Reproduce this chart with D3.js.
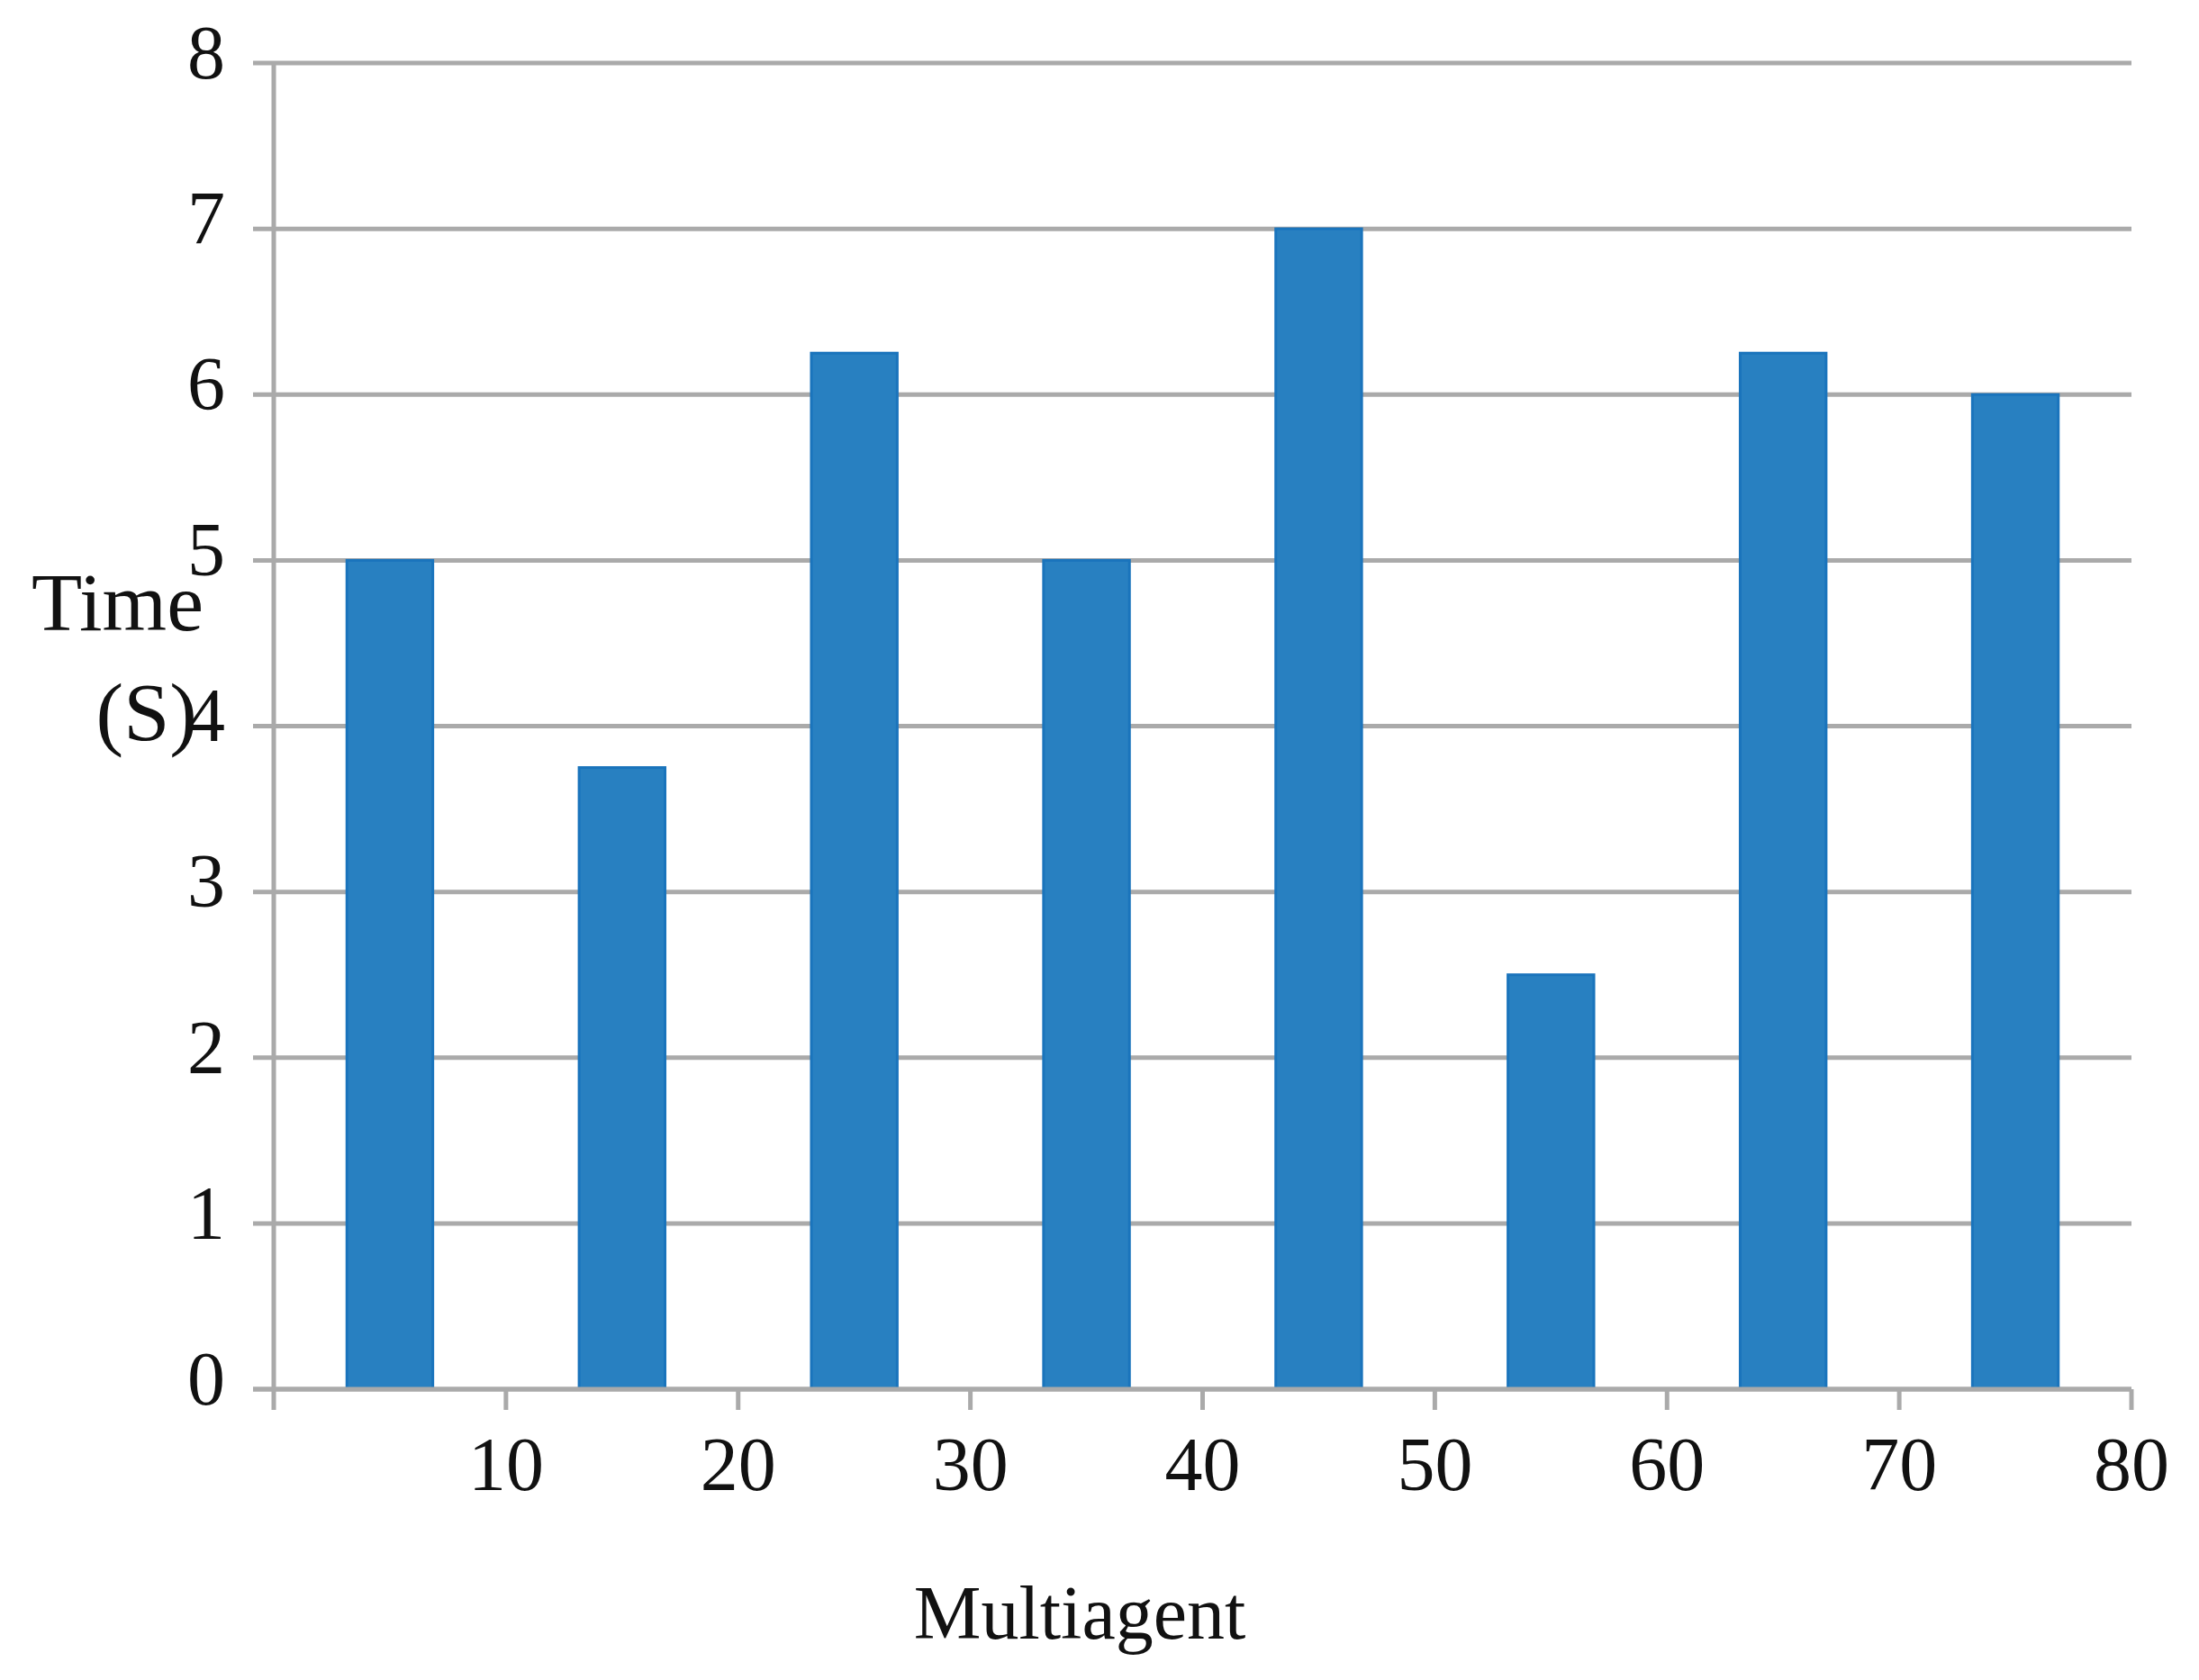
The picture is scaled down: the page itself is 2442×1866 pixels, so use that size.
<!DOCTYPE html>
<html>
<head>
<meta charset="utf-8">
<script src="https://cdn.jsdelivr.net/npm/d3@7"></script>
<style>
  body { margin: 0; background: #fff; }
  text { font-family: "Liberation Serif", "Times New Roman", serif; fill: #111; }
</style>
</head>
<body>
<script>
// data
var categories = [5, 15, 25, 35, 45, 55, 65, 75];
var times = [5, 3.75, 6.25, 5, 7, 2.5, 6.25, 6];
var xTicks = [10, 20, 30, 40, 50, 60, 70, 80];
var yTicks = [0, 1, 2, 3, 4, 5, 6, 7, 8];

var W = 2442, H = 1866;
var margin = {top: 70, right: 75, bottom: 323, left: 304},
    width = W - margin.left - margin.right,
    height = H - margin.top - margin.bottom;

var svg = d3.select("body").append("svg")
    .attr("width", W)
    .attr("height", H)
  .append("g")
    .attr("transform", "translate(" + margin.left + "," + margin.top + ")");

var x = d3.scaleLinear().domain([0, 80]).range([0, width]);
var y = d3.scaleLinear().domain([0, 8]).range([height, 0]);
var barW = x(10) * 0.37;

// gridlines with the little left ticks
svg.append("g")
    .selectAll("line")
    .data(yTicks)
    .enter().append("line")
    .attr("x1", -23)
    .attr("x2", width)
    .attr("y1", function(d) { return y(d); })
    .attr("y2", function(d) { return y(d); })
    .style("stroke", "#aaaaaa")
    .style("stroke-width", 5);

// left axis line
svg.append("line")
    .attr("x1", 0).attr("x2", 0)
    .attr("y1", y(8)).attr("y2", height + 23)
    .style("stroke", "#aaaaaa")
    .style("stroke-width", 5);

// bars
svg.selectAll(".bar")
    .data(times)
    .enter().append("rect")
    .attr("class", "bar")
    .attr("x", function(d, i) { return x(categories[i]) - barW / 2; })
    .attr("width", barW)
    .attr("y", function(d) { return y(d); })
    .attr("height", function(d) { return height - y(d); })
    .style("fill", "#2880c1")
    .style("stroke", "#1a74bc")
    .style("stroke-width", 3);

// bottom axis (drawn over bars' base)
svg.append("line")
    .attr("x1", -23).attr("x2", width)
    .attr("y1", height).attr("y2", height)
    .style("stroke", "#aaaaaa")
    .style("stroke-width", 5);

svg.append("g")
    .selectAll("line")
    .data(xTicks)
    .enter().append("line")
    .attr("x1", function(d) { return x(d); })
    .attr("x2", function(d) { return x(d); })
    .attr("y1", height)
    .attr("y2", height + 23)
    .style("stroke", "#aaaaaa")
    .style("stroke-width", 5);

// x tick labels
svg.append("g")
    .selectAll("text")
    .data(xTicks)
    .enter().append("text")
    .attr("x", function(d) { return x(d); })
    .attr("y", height + 112)
    .attr("text-anchor", "middle")
    .style("font-size", "84px")
    .text(function(d) { return d; });

// y tick labels
svg.append("g")
    .selectAll("text")
    .data(yTicks)
    .enter().append("text")
    .attr("x", -75)
    .attr("y", function(d) { return y(d); })
    .attr("dy", "0.2em")
    .attr("text-anchor", "middle")
    .style("font-size", "84px")
    .text(function(d) { return d; });

// y axis label
var yl = svg.append("text")
    .attr("text-anchor", "end")
    .style("font-size", "92px");
yl.append("tspan").attr("x", -78).attr("y", 700 - margin.top).text("Time");
yl.append("tspan").attr("x", -85).attr("y", 822 - margin.top).text("(S)");

// x axis label
svg.append("text")
    .attr("x", 1199 - margin.left)
    .attr("y", 1820 - margin.top)
    .attr("text-anchor", "middle")
    .style("font-size", "84px")
    .text("Multiagent");
</script>
</body>
</html>
